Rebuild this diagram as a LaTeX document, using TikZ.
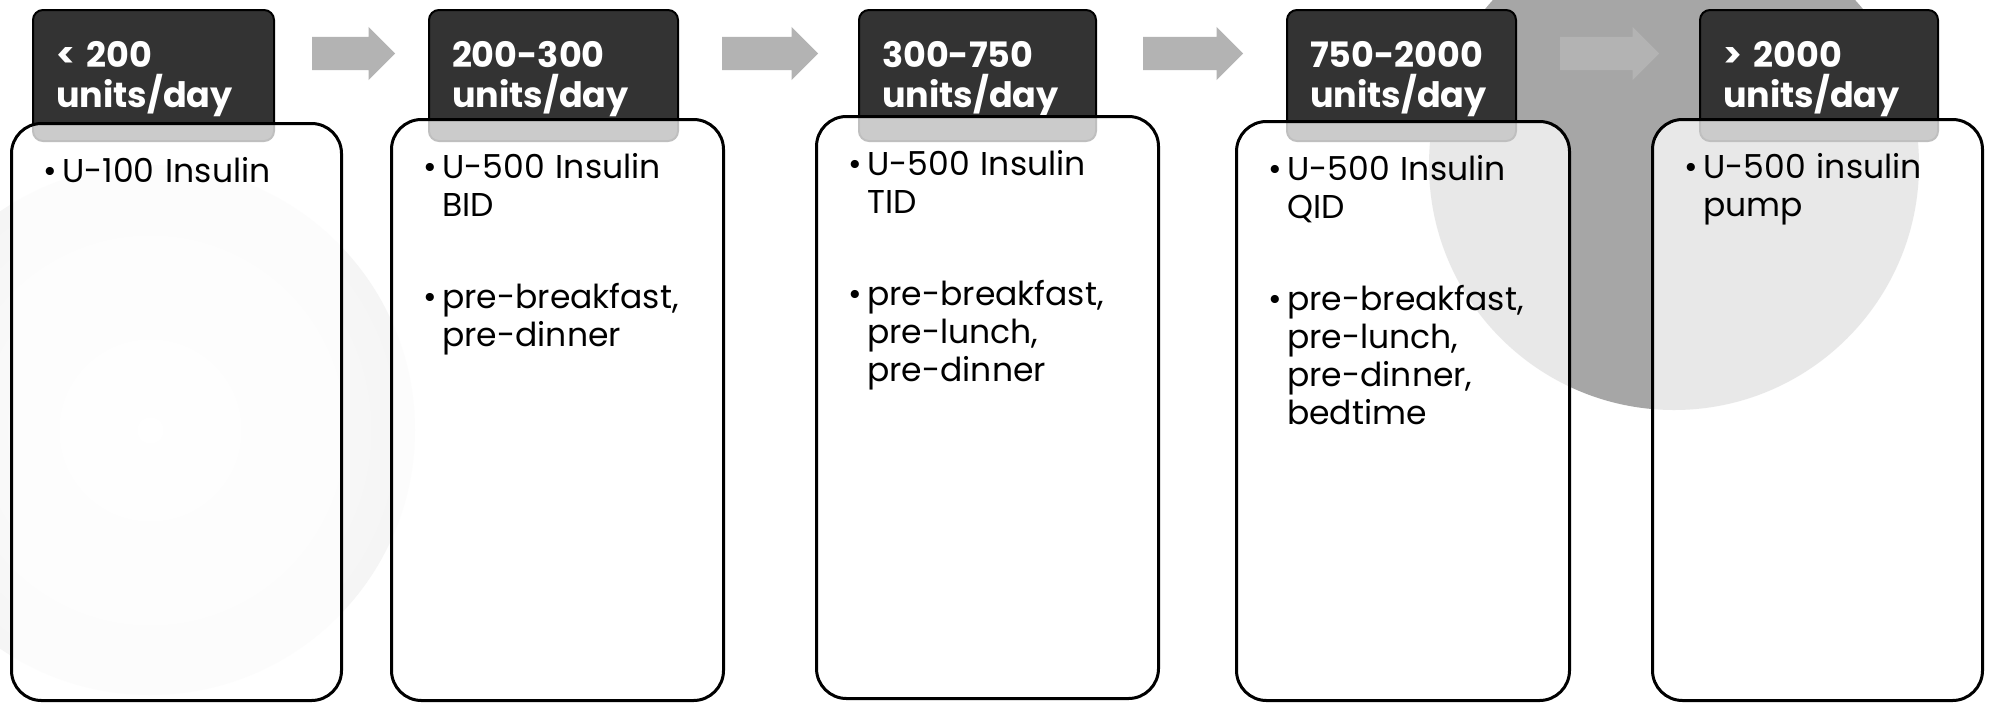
\documentclass[tikz,border=0pt]{standalone}
\usepackage{fontspec}
\setmainfont{Poppins}
\usetikzlibrary{positioning,shapes.arrows}
\definecolor{hd}{HTML}{333333}
\definecolor{ar}{HTML}{B3B3B3}
\definecolor{ci}{HTML}{A6A6A6}
\newcommand{\bul}[1]{\par\hangindent=19pt\hangafter=1\noindent\makebox[19pt][l]{\textbullet}#1\par}
\newcommand{\gap}{\vspace{54pt}}
\newcommand{\dose}[1]{\rule{0pt}{34pt}#1\\units/day}

\begin{document}
\begin{tikzpicture}[x=1pt,y=-1pt,
  head/.style={draw=black,line width=2pt,rounded corners=10pt,fill=hd,text=white,
    font=\fontsize{35}{40}\selectfont\bfseries,align=left,anchor=north west,
    inner xsep=23pt,minimum height=131pt},
  body/.style={draw=black,line width=3pt,rounded corners=30pt,fill=white,
    fill opacity=.75,anchor=north west},
  item/.style={font=\fontsize{33}{38}\selectfont,align=left,text width=290pt,
    inner sep=0pt},
  flow/.style={single arrow,fill=ar,single arrow head extend=10pt,anchor=tail,
    single arrow head indent=0pt,inner xsep=0pt,inner ysep=16.5pt}]
  \useasboundingbox (0,0) rectangle (1989,702);
  \fill[white] (0,0) rectangle (1989,702);
  % backdrop
  \shade[inner color=white,outer color=black!4] (150,430) circle (265pt);
  \fill[ci] (1674,165) circle (245pt);
  % arrows between the stages
  \node[flow,minimum height=83pt] (a1) at (312,53.5) {};
  \node[flow,minimum height=96pt] (a2) at (722,53.5) {};
  \node[flow,minimum height=100pt] (a3) at (1143,53.5) {};
  \node[flow,minimum height=99pt] (a4) at (1560,53.5) {};
  % dose headers
  \node[head,text width=195pt] (h1) at (32,9) {\dose{< 200}};
  \node[head,text width=203pt] (h2) at (428,9) {\dose{200-300}};
  \node[head,text width=191pt] (h3) at (858,9) {\dose{300-750}};
  \node[head,text width=183pt] (h4) at (1286,9) {\dose{750-2000}};
  \node[head,text width=192pt] (h5) at (1699,9) {\dose{> 2000}};
  % regimen boxes
  \node[body,minimum width=330pt,minimum height=577pt] (b1) at (10,122) {};
  \node[body,minimum width=332pt,minimum height=581pt] (b2) at (390,118) {};
  \node[body,minimum width=342pt,minimum height=582pt] (b3) at (815,115) {};
  \node[body,minimum width=333pt,minimum height=579pt] (b4) at (1235,120) {};
  \node[body,minimum width=330pt,minimum height=581pt] (b5) at (1651,118) {};
  \node[item,below right=22pt and 33pt of b1.north west] (t1) {\bul{U-100 Insulin}};
  \node[item,below right=22pt and 33pt of b2.north west] (t2)
    {\bul{U-500 Insulin\newline BID}\gap\bul{pre-breakfast,\newline pre-dinner}};
  \node[item,below right=22pt and 33pt of b3.north west] (t3)
    {\bul{U-500 Insulin\newline TID}\gap
     \bul{pre-breakfast,\newline pre-lunch,\newline pre-dinner}};
  \node[item,below right=22pt and 33pt of b4.north west] (t4)
    {\bul{U-500 Insulin\newline QID}\gap
     \bul{pre-breakfast,\newline pre-lunch,\newline pre-dinner,\newline bedtime}};
  \node[item,below right=22pt and 33pt of b5.north west] (t5)
    {\bul{U-500 insulin\newline pump}};
\end{tikzpicture}
\end{document}
